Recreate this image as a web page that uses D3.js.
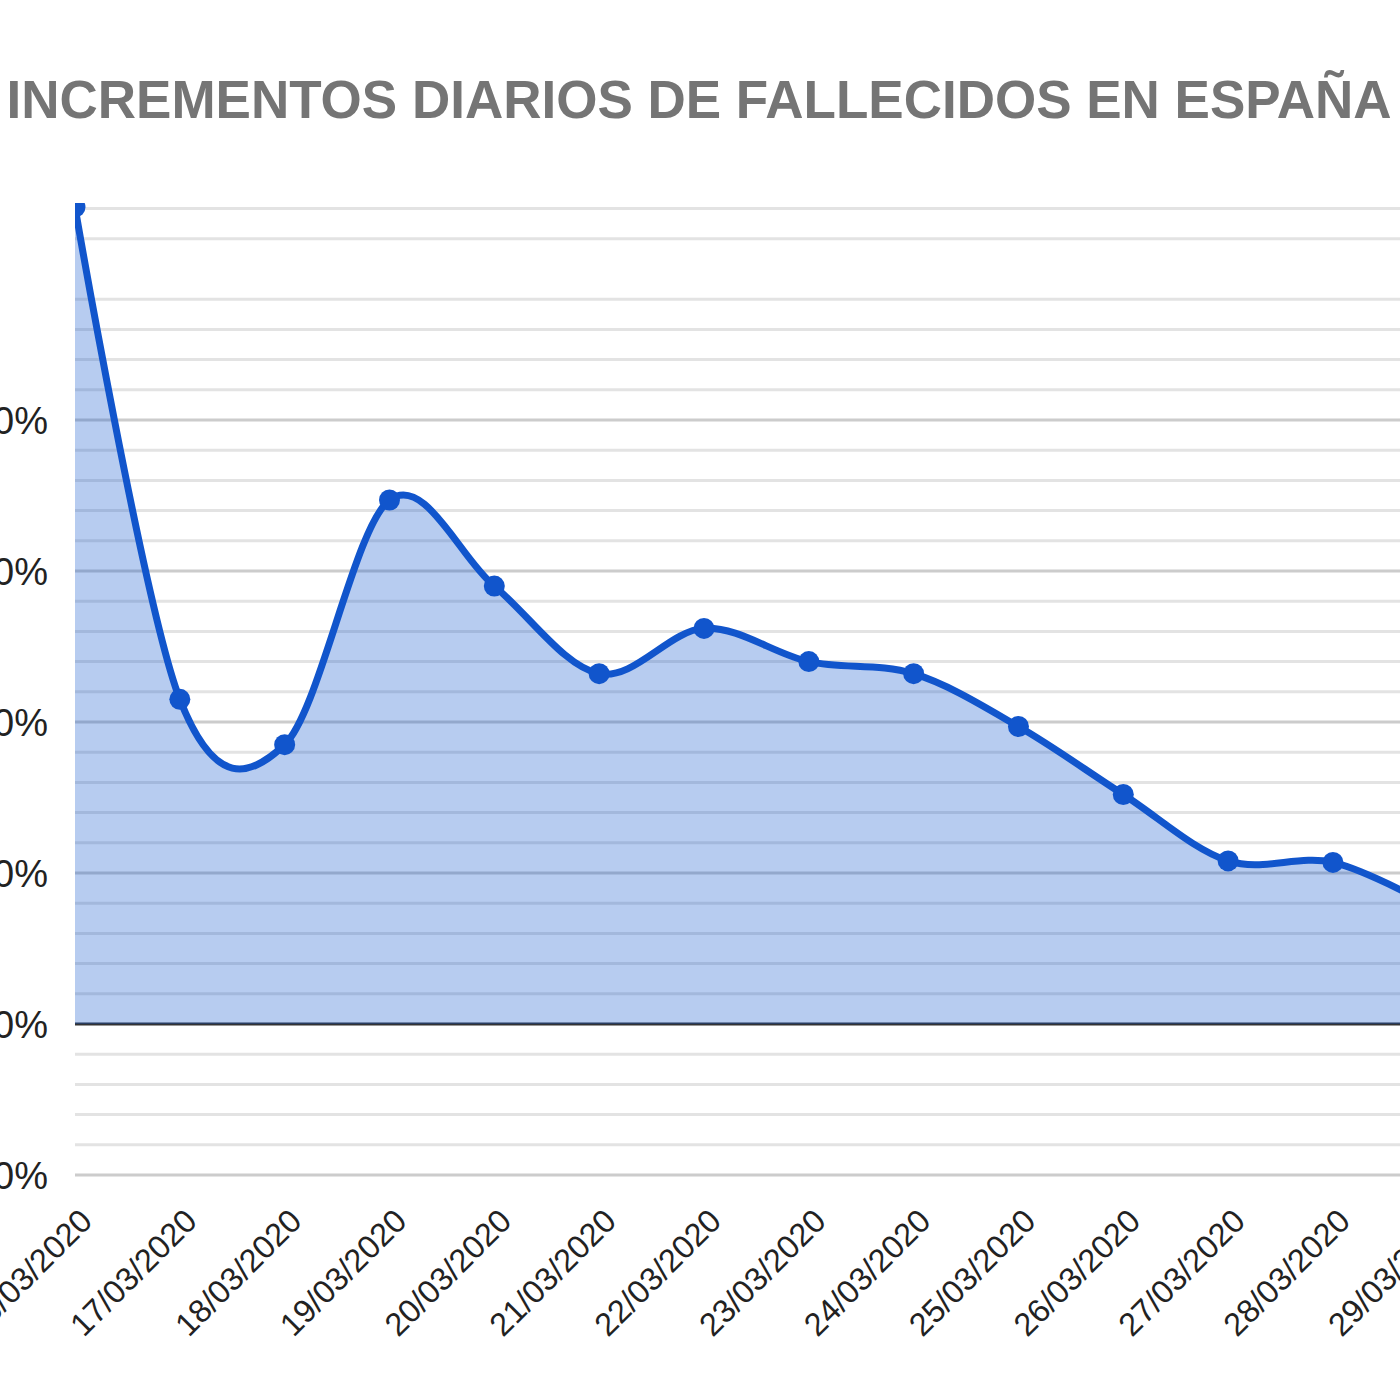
<!DOCTYPE html>
<html><head><meta charset="utf-8">
<script src="https://cdn.jsdelivr.net/npm/d3@7"></script>
<style>html,body{margin:0;padding:0;background:#fff;}svg{display:block;}</style>
</head><body>
<svg id="c" width="1400" height="1400"></svg>
<script>
const title = "INCREMENTOS DIARIOS DE FALLECIDOS EN ESPAÑA";
const dates = ["16/03/2020","17/03/2020","18/03/2020","19/03/2020","20/03/2020","21/03/2020","22/03/2020","23/03/2020","24/03/2020","25/03/2020","26/03/2020","27/03/2020","28/03/2020","29/03/2020"];
const values = [54.1, 21.5, 18.5, 34.7, 29.0, 23.2, 26.2, 24.0, 23.2, 19.7, 15.2, 10.8, 10.7, 7.6];
const majorTicks = [-10, 0, 10, 20, 30, 40];
const minorTicks = [-8,-6,-4,-2,2,4,6,8,12,14,16,18,22,24,26,28,32,34,36,38,42,44,46,48,52,54];
const tickLabels = ["-10%","0%","10%","20%","30%","40%"];

const svg = d3.select("#c");
const left = 75, step = 104.83;
const x = d3.scalePoint().domain(dates).range([left, left + step*(dates.length-1)]);
const y = d3.scaleLinear().domain([-10, 54]).range([1175, 1175 - 64*15.1]);
const clipTop = 203;

svg.append("defs").append("clipPath").attr("id","pc")
  .append("rect").attr("x", left).attr("y", clipTop).attr("width", 1400-left).attr("height", 1200-clipTop);

// title
svg.append("text").attr("x", 699).attr("y", 118).attr("text-anchor","middle")
  .attr("font-family","Liberation Sans, Arial, sans-serif").attr("font-weight","bold")
  .attr("font-size", 53).attr("fill","#757575").text(title);

const g = svg.append("g");
// gridlines
g.selectAll("line.minor").data(minorTicks).join("line").attr("class","minor")
  .attr("x1", left).attr("x2", 1400).attr("y1", d=>y(d)).attr("y2", d=>y(d))
  .attr("stroke","#e3e3e3").attr("stroke-width",3);
g.selectAll("line.major").data(majorTicks.filter(d=>d!==0)).join("line").attr("class","major")
  .attr("x1", left).attr("x2", 1400).attr("y1", d=>y(d)).attr("y2", d=>y(d))
  .attr("stroke","#cccccc").attr("stroke-width",3);
g.append("line").attr("x1", left).attr("x2", 1400).attr("y1", y(0)).attr("y2", y(0))
  .attr("stroke","#333").attr("stroke-width",3);

// y labels
svg.selectAll("text.yl").data(majorTicks).join("text").attr("class","yl")
  .attr("x", 48).attr("y", d=>y(d)).attr("dy","0.36em").attr("text-anchor","end")
  .attr("font-family","Liberation Sans, Arial, sans-serif").attr("font-size",38).attr("fill","#222")
  .text((d,i)=>tickLabels[i]);

// x labels
svg.selectAll("text.xl").data(dates).join("text").attr("class","xl")
  .attr("transform", d=>`translate(${x(d)+19},1223) rotate(-45)`)
  .attr("text-anchor","end")
  .attr("font-family","Liberation Sans, Arial, sans-serif").attr("font-size",32.5).attr("fill","#222")
  .text(d=>d);

const pts = dates.map((d,i)=>[x(d), y(values[i])]);
const plot = svg.append("g").attr("clip-path","url(#pc)");
const curve = d3.curveCardinal.tension(0);
plot.append("path").attr("d", d3.area().x(d=>d[0]).y0(y(0)).y1(d=>d[1]).curve(curve)(pts))
  .attr("fill","#1155cc").attr("fill-opacity",0.3);
plot.append("path").attr("d", d3.line().curve(curve)(pts))
  .attr("fill","none").attr("stroke","#1155cc").attr("stroke-width",7).attr("stroke-linejoin","round");
plot.selectAll("circle").data(pts).join("circle")
  .attr("cx", d=>d[0]).attr("cy", d=>d[1]).attr("r",10.5).attr("fill","#1155cc");
</script>
</body></html>
